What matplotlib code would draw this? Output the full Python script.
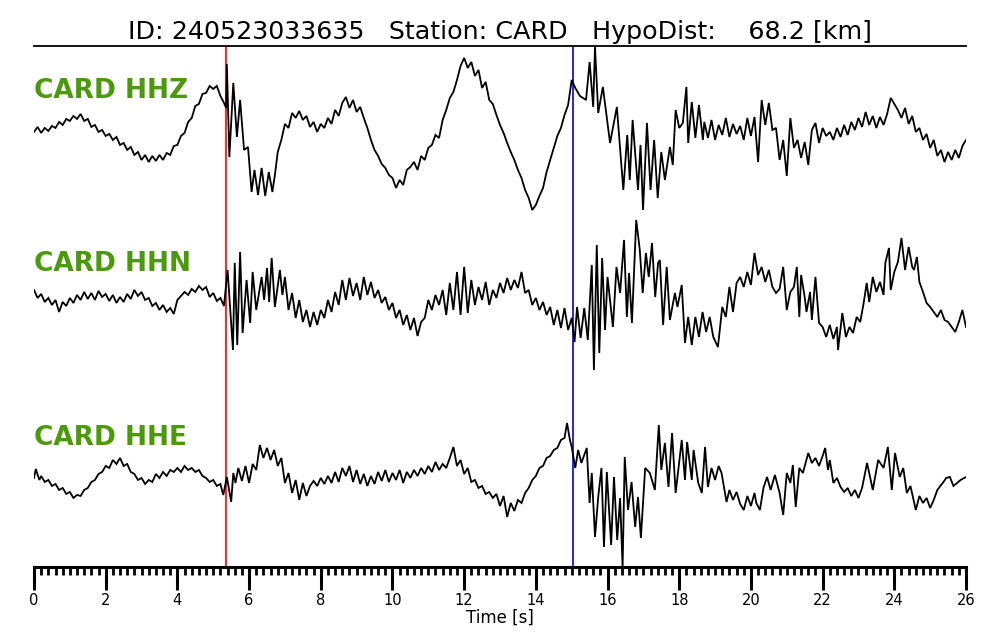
import matplotlib
matplotlib.use("Agg")
import matplotlib.pyplot as plt
from matplotlib.ticker import MultipleLocator

TITLE = "ID: 240523033635   Station: CARD   HypoDist:    68.2 [km]"
CHANNELS = ["CARD HHZ", "CARD HHN", "CARD HHE"]
P_PICK = 5.35
S_PICK = 15.04

# ---- HHZ trace (time [s], amplitude) ----
HHZ_T = [0.0, 0.1, 0.2, 0.3, 0.4, 0.5, 0.6, 0.7, 0.8, 0.9, 1.0, 1.1, 1.2, 1.3, 1.4, 1.5, 1.6, 1.7, 1.8, 1.9,
         2.0, 2.1, 2.2, 2.3, 2.4, 2.5, 2.6, 2.7, 2.8, 2.9, 3.0, 3.1, 3.2, 3.3, 3.4, 3.5, 3.6, 3.7, 3.8, 3.9,
         4.0, 4.1, 4.2, 4.3, 4.4, 4.5, 4.6, 4.7, 4.8, 4.9, 5.0, 5.1, 5.2, 5.3, 5.36, 5.38, 5.45, 5.56, 5.66, 5.75,
         5.86, 5.97, 6.07, 6.15, 6.25, 6.35, 6.45, 6.55, 6.65, 6.72, 6.8, 6.9, 7.0, 7.1, 7.2, 7.3, 7.4, 7.5, 7.6, 7.7,
         7.8, 7.9, 8.0, 8.1, 8.2, 8.3, 8.4, 8.5, 8.6, 8.7, 8.8, 8.9, 9.0, 9.1, 9.2, 9.3, 9.4, 9.5, 9.6, 9.7,
         9.8, 9.9, 10.0, 10.1, 10.2, 10.3, 10.4, 10.5, 10.6, 10.7, 10.8, 10.9, 11.0, 11.1, 11.2, 11.3, 11.4, 11.5, 11.6, 11.7,
         11.8, 11.9, 12.0, 12.1, 12.2, 12.3, 12.4, 12.5, 12.6, 12.7, 12.8, 12.9, 13.0, 13.1, 13.2, 13.3, 13.4, 13.5, 13.6, 13.7,
         13.8, 13.9, 14.0, 14.1, 14.2, 14.3, 14.4, 14.5, 14.6, 14.7, 14.8, 14.9, 15.0, 15.1, 15.23, 15.4, 15.5, 15.6, 15.65, 15.74,
         15.87, 16.07, 16.26, 16.44, 16.55, 16.62, 16.7, 16.85, 16.92, 16.99, 17.1, 17.2, 17.3, 17.4, 17.5, 17.6, 17.74, 17.82, 17.9, 18.0,
         18.1, 18.2, 18.25, 18.35, 18.45, 18.55, 18.66, 18.7, 18.8, 18.9, 19.0, 19.1, 19.2, 19.3, 19.4, 19.5, 19.6, 19.7, 19.8, 19.9,
         20.0, 20.1, 20.2, 20.3, 20.4, 20.5, 20.6, 20.7, 20.8, 20.9, 21.0, 21.1, 21.2, 21.3, 21.4, 21.5, 21.6, 21.7, 21.8, 21.9,
         22.0, 22.1, 22.2, 22.3, 22.4, 22.5, 22.6, 22.7, 22.8, 22.9, 23.0, 23.1, 23.2, 23.3, 23.4, 23.5, 23.6, 23.7, 23.8, 23.9,
         24.0, 24.1, 24.2, 24.3, 24.4, 24.5, 24.6, 24.7, 24.8, 24.9, 25.0, 25.1, 25.2, 25.3, 25.4, 25.5, 25.6, 25.7, 25.8, 25.9, 26.0]
HHZ_V = [-2, 3, -3, 2, -1, 4, 2, 8, 5, 11, 9, 14, 11, 16, 9, 11, 3, 5, -2, 0,
         -6, -4, -10, -7, -15, -13, -20, -17, -25, -22, -30, -25, -32, -26, -31, -25, -30, -23, -25, -16,
         -15, -6, -3, 8, 12, 24, 26, 36, 37, 44, 41, 44, 34, 27, 22, 66, -27, 47, -7, 30,
         -20, -17, -62, -40, -65, -38, -66, -42, -62, -45, -22, -10, 6, 2, 17, 12, 19, 10, 14, 3,
         8, -2, 6, 2, 12, 6, 20, 14, 27, 33, 22, 30, 18, 23, 12, 2, -10, -20, -26, -34,
         -38, -45, -48, -58, -50, -55, -40, -37, -32, -40, -26, -30, -18, -15, -5, -8, 10, 20, 32, 38,
         50, 64, 72, 62, 68, 54, 60, 42, 48, 30, 26, 15, 5, -3, -13, -22, -30, -40, -48, -60,
         -68, -80, -75, -66, -58, -42, -30, -18, -6, 2, 15, 25, 50, 42, 34, 30, 68, 23, 83, 17,
         43, -13, 23, -60, -5, -50, 10, -60, -15, -80, 7, -60, -10, -68, -22, -50, -17, -35, 20, 2,
         7, 43, -13, 28, -8, 25, -10, 8, -8, 10, -10, 5, -5, 12, -7, 6, -4, 4, -10, 12,
         -6, 13, -32, 30, 5, 27, 0, 2, -30, -10, -46, 12, -18, -10, -28, -12, -35, 0, 7, -13,
         2, -6, -2, -10, 2, -7, 5, -5, 8, 0, 12, 3, 18, 5, 14, 2, 13, 5, 16, 32,
         26, 20, 12, 22, 6, 14, -2, 2, -10, -4, -18, -10, -26, -20, -32, -22, -30, -20, -28, -16, -10]

# ---- HHN trace ----
HHN_T = [0.0, 0.1, 0.2, 0.3, 0.4, 0.5, 0.6, 0.7, 0.8, 0.9, 1.0, 1.1, 1.2, 1.3, 1.4, 1.5, 1.6, 1.7, 1.8, 1.9,
         2.0, 2.1, 2.2, 2.3, 2.4, 2.5, 2.6, 2.7, 2.8, 2.9, 3.0, 3.1, 3.2, 3.3, 3.4, 3.5, 3.6, 3.7, 3.8, 3.9,
         4.0, 4.1, 4.2, 4.3, 4.4, 4.5, 4.6, 4.7, 4.8, 4.9, 5.0, 5.1, 5.2, 5.3, 5.4, 5.55, 5.6, 5.67, 5.75, 5.82,
         5.93, 6.03, 6.1, 6.2, 6.35, 6.42, 6.5, 6.56, 6.63, 6.72, 6.86, 6.93, 7.0, 7.1, 7.2, 7.3, 7.4, 7.5, 7.6, 7.7,
         7.8, 7.9, 8.0, 8.1, 8.2, 8.3, 8.4, 8.5, 8.6, 8.7, 8.8, 8.9, 9.0, 9.1, 9.2, 9.3, 9.4, 9.5, 9.6, 9.7,
         9.8, 9.9, 10.0, 10.1, 10.2, 10.3, 10.4, 10.5, 10.6, 10.7, 10.8, 10.9, 11.0, 11.1, 11.2, 11.3, 11.4, 11.5, 11.6, 11.7,
         11.8, 11.9, 12.0, 12.1, 12.2, 12.3, 12.4, 12.5, 12.6, 12.7, 12.8, 12.9, 13.0, 13.1, 13.2, 13.3, 13.4, 13.5, 13.6, 13.7,
         13.8, 13.9, 14.0, 14.1, 14.2, 14.3, 14.4, 14.5, 14.6, 14.7, 14.8, 14.9, 15.0, 15.08, 15.15, 15.25, 15.35, 15.45, 15.56, 15.62,
         15.7, 15.77, 15.85, 15.93, 16.0, 16.15, 16.25, 16.35, 16.46, 16.54, 16.6, 16.68, 16.8, 16.9, 16.98, 17.07, 17.15, 17.24, 17.33, 17.41,
         17.46, 17.55, 17.65, 17.74, 17.88, 17.95, 18.07, 18.16, 18.25, 18.35, 18.45, 18.55, 18.65, 18.75, 18.85, 18.95, 19.08, 19.2, 19.3, 19.4,
         19.5, 19.6, 19.7, 19.8, 19.9, 20.0, 20.1, 20.2, 20.3, 20.4, 20.5, 20.6, 20.7, 20.8, 20.9, 21.0, 21.1, 21.2, 21.28, 21.35,
         21.4, 21.5, 21.55, 21.65, 21.7, 21.8, 21.9, 22.0, 22.1, 22.2, 22.3, 22.4, 22.43, 22.55, 22.65, 22.75, 22.85, 22.95, 23.05, 23.15,
         23.23, 23.3, 23.4, 23.5, 23.6, 23.7, 23.75, 23.85, 23.9, 24.0, 24.1, 24.2, 24.3, 24.4, 24.5, 24.55, 24.63, 24.7, 24.8, 24.9,
         25.0, 25.1, 25.2, 25.3, 25.4, 25.5, 25.6, 25.7, 25.8, 25.9, 26.0]
HHN_V = [7, -1, 3, -5, -1, -8, -3, -15, -5, -9, -1, -6, 2, -3, 5, -2, 4, -3, 6, 0,
         3, -4, 2, -6, 0, -5, 3, -2, 7, 1, 5, -3, -1, -9, -6, -13, -8, -15, -11, -17,
         -3, 1, 5, 2, 8, 5, 11, 7, 10, 0, 4, -4, -1, -9, 27, -53, 34, -48, 45, -36,
         17, -26, 25, -13, 20, -3, 29, -5, 39, -10, 27, 2, 20, -13, 4, -21, -3, -25, -13, -30,
         -15, -28, -13, -21, -3, -15, 5, -8, 17, -3, 19, 1, 14, -3, 20, 2, 15, -1, 7, -6,
         0, -13, -6, -21, -13, -28, -18, -33, -21, -39, -25, -21, -3, -13, 2, -8, 7, -18, 14, -13,
         25, -18, 30, -16, 17, -8, 10, -3, 15, -8, 7, -1, 14, 4, 19, 7, 17, 9, 25, 4,
         7, -8, -1, -13, -5, -18, -10, -28, -13, -31, -11, -33, -21, -45, -10, -41, -11, -43, 32, -73,
         52, -56, 39, -33, 20, -30, 30, 4, 57, -20, 24, -26, 77, 47, 4, 44, 20, 54, 0, 34,
         37, -28, 30, -23, 4, -10, 12, -46, -20, -48, -20, -40, -15, -35, -20, -40, -50, -10, -20, 10,
         -15, 14, 20, 10, 25, 12, 44, 22, 30, 15, 27, 10, 4, 8, 30, -13, 5, 10, 30, -20,
         22, 0, -15, 5, -23, 20, -26, -30, -40, -28, -42, -30, -53, -16, -40, -30, -36, -20, -25, -5,
         14, -5, 20, 5, 15, 2, 34, 49, 7, 25, 35, 59, 27, 50, 30, 27, 40, 15, 5, -6,
         -10, -15, -20, -13, -23, -25, -30, -35, -25, -13, -30]

# ---- HHE trace ----
HHE_T = [0.0, 0.05, 0.15, 0.2, 0.3, 0.4, 0.5, 0.6, 0.7, 0.8, 0.9, 1.0, 1.1, 1.2, 1.3, 1.4, 1.5, 1.6, 1.7, 1.8,
         1.9, 2.0, 2.1, 2.2, 2.3, 2.4, 2.5, 2.6, 2.7, 2.8, 2.9, 3.0, 3.1, 3.2, 3.3, 3.4, 3.5, 3.6, 3.7, 3.8,
         3.9, 4.0, 4.1, 4.2, 4.3, 4.4, 4.5, 4.6, 4.7, 4.8, 4.9, 5.0, 5.1, 5.2, 5.28, 5.38, 5.5, 5.56, 5.62, 5.7,
         5.8, 5.9, 6.0, 6.1, 6.2, 6.3, 6.4, 6.5, 6.6, 6.7, 6.8, 6.9, 7.0, 7.1, 7.2, 7.3, 7.4, 7.5, 7.6, 7.7,
         7.8, 7.9, 8.0, 8.1, 8.2, 8.3, 8.4, 8.5, 8.6, 8.7, 8.8, 8.9, 9.0, 9.1, 9.2, 9.3, 9.4, 9.5, 9.6, 9.7,
         9.8, 9.9, 10.0, 10.1, 10.2, 10.3, 10.4, 10.5, 10.6, 10.7, 10.8, 10.9, 11.0, 11.1, 11.2, 11.3, 11.4, 11.5, 11.6, 11.7,
         11.8, 11.9, 12.0, 12.1, 12.2, 12.3, 12.4, 12.5, 12.6, 12.7, 12.8, 12.9, 13.0, 13.1, 13.2, 13.3, 13.4, 13.5, 13.6, 13.7,
         13.8, 13.9, 14.0, 14.1, 14.2, 14.3, 14.4, 14.5, 14.6, 14.7, 14.8, 14.87, 14.95, 15.0, 15.1, 15.18, 15.27, 15.42, 15.5, 15.56,
         15.65, 15.74, 15.83, 15.9, 15.98, 16.1, 16.18, 16.27, 16.35, 16.42, 16.48, 16.57, 16.67, 16.77, 16.85, 16.93, 17.05, 17.18, 17.32, 17.43,
         17.5, 17.6, 17.7, 17.8, 17.9, 18.07, 18.16, 18.22, 18.35, 18.4, 18.53, 18.63, 18.72, 18.8, 18.9, 19.0, 19.1, 19.18, 19.32, 19.4,
         19.5, 19.6, 19.7, 19.8, 19.9, 20.0, 20.1, 20.15, 20.25, 20.35, 20.45, 20.55, 20.67, 20.8, 20.9, 21.0, 21.1, 21.17, 21.25, 21.35,
         21.45, 21.6, 21.7, 21.8, 21.9, 22.0, 22.07, 22.15, 22.2, 22.3, 22.4, 22.5, 22.6, 22.7, 22.8, 22.9, 23.0, 23.1, 23.24, 23.4,
         23.55, 23.7, 23.82, 23.93, 24.02, 24.15, 24.25, 24.35, 24.45, 24.6, 24.7, 24.8, 24.9, 25.0, 25.1, 25.2, 25.35, 25.45, 25.55, 25.65,
         25.75, 25.85, 26.0]
HHE_V = [0, 9, -2, 2, -4, -2, -8, -6, -12, -10, -16, -14, -20, -17, -18, -12, -10, -4, -2, 4,
         6, 12, 10, 18, 14, 20, 12, 14, 6, 4, -2, 0, -6, -2, -4, 4, 0, 6, 2, 8,
         6, 10, 6, 12, 8, 10, 6, 8, 2, 0, -4, -2, -8, -6, -17, 1, -24, 5, -5, 10,
         -3, 12, -5, 14, 8, 33, 20, 30, 18, 28, 12, 20, -5, 5, -15, -2, -22, -5, -18, -8,
         -3, -8, 0, -6, 2, -5, 6, -4, 10, 2, 12, -4, 8, -6, 4, -8, 2, -6, 6, -3,
         8, -4, 5, -2, 8, -5, 6, 0, 8, 2, 10, 4, 12, 6, 16, 8, 14, 10, 20, 31,
         12, 18, 4, 10, -4, -2, -10, -8, -16, -14, -20, -16, -28, -18, -39, -25, -33, -22, -25, -15,
         -10, -2, 2, 10, 12, 20, 22, 28, 30, 38, 40, 55, 38, 31, 10, 28, 15, 30, -25, 5,
         -59, -19, 10, -69, 6, -67, 1, -62, -20, -89, 21, -32, -4, -49, -19, -60, 10, 5, -12, 53,
         8, 35, -9, 45, -15, 38, -2, 36, -2, 28, -5, -15, 31, -9, 10, -2, 12, 5, -24, -12,
         -22, -14, -26, -32, -18, -28, -15, -25, -32, -10, 1, -12, 3, -15, -37, 5, -5, 13, -29, 10,
         5, 25, 15, 20, 12, 22, 30, 8, 18, -5, 0, -9, -14, -10, -18, -12, -20, -10, 15, -12,
         18, 10, 31, -12, 25, 1, 10, -15, -8, -32, -18, -25, -20, -30, -22, -12, -5, 0, 1, -8,
         -5, -2, 1]

TRACES = [(HHZ_T, HHZ_V), (HHN_T, HHN_V), (HHE_T, HHE_V)]

# layout (display offsets for each trace, in plot units)
OFFSETS = [-130, -297, -478]
LABEL_Y = [-91, -264, -438]

fig = plt.figure(figsize=(10, 6.4), dpi=100)
ax = fig.add_axes([0.034, 0.1141, 0.932, 0.8141])

for (t, v), off in zip(TRACES, OFFSETS):
    ax.plot(t, [off + a for a in v], color="black", lw=1.3, solid_joinstyle="miter", zorder=2)

ax.axvline(P_PICK, color="red", lw=1.2, zorder=1)
ax.axvline(S_PICK, color="blue", lw=1.2, zorder=1)

for name, ly in zip(CHANNELS, LABEL_Y):
    ax.text(0.0, ly, name, color="#4a9a0a", fontsize=19, fontweight="bold",
            ha="left", va="center", zorder=3)

ax.set_xlim(0, 26)
ax.set_ylim(-567, -46)
ax.set_yticks([])
ax.spines["left"].set_visible(False)
ax.spines["right"].set_visible(False)
ax.spines["top"].set_linewidth(1.3)
ax.spines["bottom"].set_linewidth(2.2)

ax.xaxis.set_major_locator(MultipleLocator(2))
ax.xaxis.set_minor_locator(MultipleLocator(0.2))
ax.tick_params(axis="x", which="major", direction="out", length=16.5, width=2.2,
               labelsize=10.5, pad=2)
ax.tick_params(axis="x", which="minor", direction="out", length=6, width=2.0)
ax.set_xlabel("Time [s]", fontsize=12, labelpad=1)
ax.set_title(TITLE, fontsize=18.3, pad=5)

fig.savefig("out.png", dpi=100)
